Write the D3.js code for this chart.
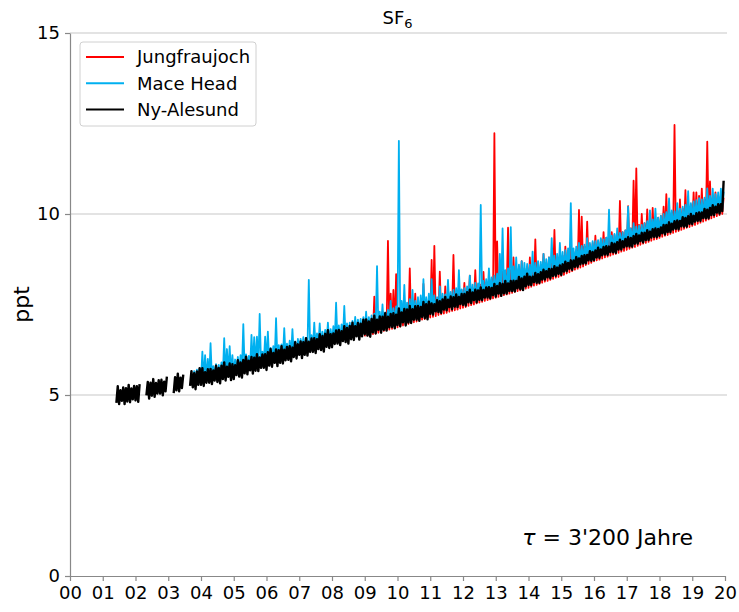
<!DOCTYPE html>
<html>
<head>
<meta charset="utf-8">
<script src="https://cdn.jsdelivr.net/npm/d3@7"></script>
<style>
body { margin: 0; background: #fff; }
svg { font-family: "DejaVu Sans", sans-serif; }
</style>
</head>
<body>
<script>
// SF6 monthly low / high (ppt), one row per year

var stations = ["Jungfraujoch", "Mace Head", "Ny-Alesund"];
var yTicks = [0, 5, 10, 15];
var xYears = d3.range(2000, 2021);

// Ny-Alesund, from June 2001
var nyStart = 2001 + 5 / 12;
var nyLow = [
	4.78, 4.75, 4.84, 4.75, 4.82, 4.80, 4.88,
	4.85, 4.81, null, null, 4.99, 4.90, 4.98, 4.95, 5.04, 5.04, 4.99, 5.10,
	null, null, 5.05, 5.13, 5.10, 5.19, null, null, 5.25, 5.21, 5.16, 5.28,
	5.28, 5.25, 5.34, 5.34, 5.30, 5.40, 5.36, 5.32, 5.44, 5.40, 5.50, 5.41,
	5.44, 5.55, 5.51, 5.48, 5.60, 5.57, 5.68, 5.59, 5.67, 5.66, 5.75, 5.75,
	5.69, 5.81, 5.78, 5.89, 5.80, 5.89, 5.87, 5.96, 5.97, 5.93, 6.05, 6.01,
	6.11, 6.02, 6.11, 6.09, 6.19, 6.19, 6.16, 6.27, 6.24, 6.20, 6.33, 6.30,
	6.32, 6.41, 6.42, 6.38, 6.49, 6.46, 6.42, 6.54, 6.52, 6.62, 6.53, 6.62,
	6.68, 6.64, 6.61, 6.73, 6.70, 6.80, 6.72, 6.80, 6.78, 6.87, 6.88, 6.84,
	6.93, 6.90, 7.01, 6.92, 7.00, 6.99, 7.08, 7.08, 7.05, 7.16, 7.12, 7.09,
	7.24, 7.22, 7.31, 7.29, 7.27, 7.36, 7.34, 7.43, 7.37, 7.44, 7.43, 7.51,
	7.49, 7.47, 7.56, 7.54, 7.62, 7.56, 7.63, 7.62, 7.69, 7.69, 7.67, 7.76,
	7.72, 7.80, 7.74, 7.81, 7.80, 7.87, 7.87, 7.86, 7.95, 7.92, 7.90, 8.00,
	8.04, 8.04, 8.12, 8.10, 8.10, 8.19, 8.19, 8.25, 8.22, 8.29, 8.29, 8.35,
	8.32, 8.41, 8.42, 8.49, 8.46, 8.54, 8.54, 8.61, 8.63, 8.64, 8.72, 8.71,
	8.73, 8.80, 8.79, 8.86, 8.88, 8.87, 8.95, 8.94, 8.93, 9.02, 9.02, 9.08,
	9.11, 9.10, 9.10, 9.18, 9.18, 9.25, 9.22, 9.28, 9.28, 9.35, 9.37, 9.36,
	9.40, 9.47, 9.44, 9.50, 9.50, 9.57, 9.59, 9.58, 9.66, 9.65, 9.65, 9.73,
	9.72, 9.79, 9.81, 9.81, 9.89, 9.88, 9.88, 9.97, 9.97, 10.04, 10.01, 10.08
];
var nyHigh = [
	5.24, 5.13, 5.21, 5.19, 5.28, 5.18, 5.25,
	5.24, 5.30, null, null, 5.36, 5.34, 5.44, 5.33, 5.41, 5.42, 5.37, 5.51,
	null, null, 5.49, 5.59, 5.48, 5.56, null, null, 5.66, 5.60, 5.65, 5.74,
	5.74, 5.63, 5.71, 5.72, 5.68, 5.81, 5.75, 5.81, 5.90, 5.78, 5.87, 5.85,
	5.82, 5.96, 5.90, 5.97, 6.06, 5.95, 6.05, 6.03, 6.13, 6.04, 6.12, 6.13,
	6.18, 6.27, 6.16, 6.26, 6.24, 6.35, 6.25, 6.33, 6.35, 6.31, 6.46, 6.40,
	6.48, 6.46, 6.57, 6.47, 6.56, 6.57, 6.54, 6.68, 6.63, 6.69, 6.79, 6.68,
	6.70, 6.78, 6.80, 6.76, 6.90, 6.85, 6.91, 7.00, 6.90, 6.99, 6.97, 7.08,
	7.09, 7.03, 7.10, 7.19, 7.08, 7.17, 7.16, 7.26, 7.16, 7.24, 7.26, 7.22,
	7.39, 7.28, 7.38, 7.36, 7.46, 7.37, 7.45, 7.46, 7.43, 7.57, 7.51, 7.58,
	7.53, 7.51, 7.62, 7.59, 7.64, 7.71, 7.63, 7.72, 7.70, 7.78, 7.71, 7.79,
	7.79, 7.84, 7.91, 7.83, 7.91, 7.89, 7.97, 7.90, 7.97, 7.98, 7.96, 8.07,
	8.01, 8.09, 8.07, 8.15, 8.08, 8.15, 8.16, 8.15, 8.26, 8.22, 8.27, 8.35,
	8.27, 8.27, 8.37, 8.34, 8.39, 8.46, 8.42, 8.48, 8.48, 8.56, 8.52, 8.58,
	8.61, 8.68, 8.65, 8.72, 8.72, 8.81, 8.77, 8.84, 8.86, 8.87, 8.97, 8.95,
	8.99, 9.07, 9.02, 9.09, 9.11, 9.10, 9.20, 9.18, 9.22, 9.29, 9.25, 9.31,
	9.36, 9.34, 9.39, 9.45, 9.41, 9.48, 9.48, 9.55, 9.51, 9.58, 9.60, 9.59,
	9.63, 9.70, 9.70, 9.77, 9.73, 9.80, 9.82, 9.81, 9.91, 9.89, 9.94, 10.00,
	9.95, 10.02, 10.04, 10.04, 10.14, 10.12, 10.17, 10.24, 10.20, 10.27, 10.27, 10.92
];

// Mace Head, from October 2003
var mhStart = 2003 + 9 / 12;
var mhLow = [
	5.35, 5.36, 5.38,
	5.39, 5.41, 5.43, 5.44, 5.46, 5.48, 5.50, 5.51, 5.53, 5.55, 5.57, 5.58,
	5.60, 5.62, 5.65, 5.67, 5.70, 5.72, 5.74, 5.77, 5.79, 5.82, 5.84, 5.87,
	5.89, 5.91, 5.94, 5.96, 5.98, 6.00, 6.02, 6.05, 6.07, 6.09, 6.11, 6.14,
	6.16, 6.19, 6.21, 6.24, 6.26, 6.29, 6.31, 6.34, 6.36, 6.39, 6.41, 6.44,
	6.46, 6.48, 6.51, 6.53, 6.55, 6.57, 6.60, 6.62, 6.64, 6.67, 6.69, 6.72,
	6.74, 6.76, 6.78, 6.80, 6.82, 6.84, 6.87, 6.89, 6.91, 6.93, 6.95, 6.97,
	6.99, 7.01, 7.04, 7.06, 7.08, 7.11, 7.13, 7.15, 7.18, 7.20, 7.22, 7.25,
	7.27, 7.29, 7.31, 7.34, 7.36, 7.38, 7.40, 7.43, 7.45, 7.47, 7.49, 7.52,
	7.54, 7.56, 7.59, 7.61, 7.63, 7.66, 7.68, 7.70, 7.73, 7.75, 7.77, 7.80,
	7.82, 7.84, 7.86, 7.89, 7.91, 7.93, 7.95, 7.98, 8.00, 8.02, 8.04, 8.07,
	8.09, 8.12, 8.15, 8.17, 8.20, 8.23, 8.26, 8.28, 8.31, 8.34, 8.37, 8.39,
	8.42, 8.45, 8.49, 8.52, 8.55, 8.59, 8.62, 8.65, 8.68, 8.72, 8.75, 8.78,
	8.82, 8.85, 8.87, 8.90, 8.93, 8.95, 8.98, 9.01, 9.03, 9.06, 9.09, 9.11,
	9.14, 9.17, 9.20, 9.22, 9.25, 9.28, 9.31, 9.33, 9.36, 9.39, 9.42, 9.44,
	9.47, 9.50, 9.53, 9.55, 9.58, 9.61, 9.64, 9.66, 9.69, 9.72, 9.75, 9.77,
	9.80, 9.83, 9.86, 9.89, 9.92, 9.95, 9.98, 10.01, 10.04, 10.07, 10.10, 10.13
];
var mhHigh = [
	5.66, 5.70, 5.72,
	6.20, 6.10, 6.00, 6.43, 5.80, 5.85, 5.83, 5.90, 6.57, 6.27, 6.35, 6.10,
	5.98, 6.05, 6.10, 6.96, 6.12, 6.08, 6.66, 6.60, 6.61, 7.24, 6.20, 6.61,
	6.75, 6.30, 6.35, 7.12, 6.38, 6.40, 6.85, 6.42, 6.50, 6.82, 6.48, 6.55,
	6.55, 6.60, 6.58, 8.18, 6.65, 7.00, 6.70, 6.98, 6.75, 6.80, 7.00, 6.82,
	6.90, 7.55, 6.92, 6.95, 7.46, 6.98, 7.00, 7.05, 7.16, 7.08, 7.10, 7.15,
	7.30, 7.15, 7.20, 7.25, 8.56, 7.30, 7.50, 7.28, 7.35, 7.60, 7.40, 7.45,
	12.02, 7.60, 8.04, 7.55, 7.65, 7.90, 7.60, 7.70, 7.75, 8.20, 7.70, 7.80,
	8.20, 7.75, 7.70, 8.00, 7.80, 7.78, 8.18, 7.85, 7.90, 7.95, 8.45, 7.92,
	7.95, 8.00, 8.30, 8.05, 8.10, 8.08, 10.25, 8.15, 8.20, 8.50, 8.25, 8.30,
	8.35, 8.90, 9.60, 8.45, 8.50, 9.64, 8.55, 8.80, 8.60, 8.70, 8.65, 8.62,
	8.60, 8.96, 8.65, 8.70, 8.68, 8.90, 8.75, 8.80, 9.33, 8.85, 8.90, 9.20,
	8.95, 9.00, 9.05, 10.30, 9.05, 9.10, 9.20, 9.12, 9.15, 9.33, 9.20, 9.25,
	9.25, 9.28, 9.33, 9.30, 9.35, 10.12, 9.40, 9.45, 9.60, 9.48, 9.50, 9.55,
	10.20, 9.60, 9.75, 9.65, 9.68, 9.70, 9.75, 9.80, 10.10, 9.85, 10.15, 9.90,
	9.95, 10.00, 10.05, 10.43, 10.10, 10.08, 10.30, 10.15, 10.20, 10.25, 10.63, 10.30,
	10.35, 10.38, 10.44, 10.40, 10.45, 10.71, 10.50, 10.70, 10.55, 10.60, 10.70, 10.62
];

// Jungfraujoch, from January 2009
var jfStart = 2009;
var jfLow = [
	6.62, 6.64, 6.66, 6.68, 6.70, 6.72, 6.75, 6.77, 6.79, 6.81, 6.83, 6.85,
	6.87, 6.89, 6.92, 6.94, 6.96, 6.99, 7.01, 7.03, 7.06, 7.08, 7.10, 7.13,
	7.14, 7.16, 7.18, 7.21, 7.23, 7.25, 7.27, 7.30, 7.32, 7.34, 7.36, 7.39,
	7.41, 7.43, 7.46, 7.48, 7.50, 7.53, 7.55, 7.57, 7.60, 7.62, 7.64, 7.67,
	7.69, 7.71, 7.73, 7.76, 7.78, 7.80, 7.82, 7.85, 7.87, 7.89, 7.91, 7.94,
	7.96, 7.99, 8.02, 8.04, 8.07, 8.10, 8.13, 8.15, 8.18, 8.21, 8.24, 8.26,
	8.29, 8.32, 8.36, 8.39, 8.42, 8.46, 8.49, 8.52, 8.55, 8.59, 8.62, 8.65,
	8.69, 8.72, 8.74, 8.77, 8.80, 8.82, 8.85, 8.88, 8.90, 8.93, 8.96, 8.98,
	9.01, 9.04, 9.07, 9.09, 9.12, 9.15, 9.18, 9.20, 9.23, 9.26, 9.29, 9.31,
	9.34, 9.37, 9.40, 9.42, 9.45, 9.48, 9.51, 9.53, 9.56, 9.59, 9.62, 9.64,
	9.67, 9.70, 9.73, 9.76, 9.79, 9.82, 9.85, 9.88, 9.91, 9.94, 9.97, 10.00
];
var jfHigh = [
	7.00, 7.02, 7.05, 7.72, 7.08, 7.10, 7.30, 7.12, 9.26, 7.80, 7.90, 8.34,
	7.30, 7.35, 7.60, 7.40, 8.50, 7.45, 7.80, 7.48, 7.55, 8.07, 7.55, 7.60,
	8.73, 9.12, 7.65, 8.41, 7.70, 8.00, 7.72, 7.75, 8.87, 7.80, 7.85, 7.90,
	8.10, 7.90, 8.30, 7.95, 8.45, 8.00, 8.05, 8.40, 8.10, 8.15, 8.20, 12.23,
	9.24, 8.30, 8.40, 8.35, 9.62, 8.45, 8.80, 8.50, 8.45, 8.70, 8.50, 8.55,
	8.80, 8.50, 9.30, 8.55, 8.60, 8.90, 8.65, 8.80, 8.70, 9.56, 8.75, 8.80,
	8.85, 9.10, 8.90, 9.20, 8.95, 9.00, 10.11, 9.93, 9.10, 9.79, 9.15, 9.20,
	9.40, 9.25, 9.30, 9.50, 9.35, 9.38, 9.50, 9.42, 9.45, 10.36, 9.50, 9.55,
	10.22, 9.60, 10.92, 11.26, 9.70, 10.00, 9.75, 10.13, 9.80, 10.17, 9.85, 9.90,
	9.95, 10.20, 10.55, 10.00, 10.05, 12.46, 10.10, 10.40, 10.15, 10.66, 10.20, 10.25,
	10.60, 10.60, 10.50, 10.70, 10.40, 12.00, 10.90, 10.45, 10.60, 10.50, 10.50, 10.45
];

var colors = ["#ff0000", "#00b0f0", "#000000"];

var width = 739, height = 612;
var margin = {top: 33, right: 14, bottom: 36, left: 70};

var x = d3.scaleLinear().domain([2000, 2020]).range([margin.left, width - margin.right]);
var y = d3.scaleLinear().domain([0, 15]).range([height - margin.bottom, margin.top]);

var svg = d3.select("body").append("svg")
	.attr("width", width)
	.attr("height", height);

// grid
svg.append("g")
	.selectAll("line")
	.data(yTicks.filter(function(d){ return d > 0; }))
	.enter().append("line")
	.attr("x1", x(2000)).attr("x2", x(2020) + 2)
	.attr("y1", function(d){ return y(d); })
	.attr("y2", function(d){ return y(d); })
	.attr("stroke", "#c8c8c8")
	.attr("stroke-width", 1.2);

// turn low/high months into a zigzag line
function zigzag(start, lo, hi) {
	var pts = [];
	lo.forEach(function(v, i){
		var t = start + i / 12;
		pts.push([t, v]);
		pts.push([t + 1 / 24, hi[i]]);
	});
	return pts;
}

var line = d3.line()
	.defined(function(d){ return d[1] != null; })
	.x(function(d){ return x(d[0]); })
	.y(function(d){ return y(d[1]); });

var series = [
	zigzag(jfStart, jfLow, jfHigh),
	zigzag(mhStart, mhLow, mhHigh),
	zigzag(nyStart, nyLow, nyHigh)
];

svg.append("g")
	.selectAll("path")
	.data(series)
	.enter().append("path")
	.attr("d", line)
	.attr("fill", "none")
	.attr("stroke", function(d, i){ return colors[i]; })
	.attr("stroke-width", function(d, i){ return i == 2 ? 2.4 : 1.8; })
	.attr("stroke-linejoin", "round");

// axes
var xAxis = svg.append("g")
	.attr("transform", "translate(0," + y(0) + ")")
	.call(d3.axisBottom(x)
		.tickValues(xYears)
		.tickFormat(function(d){ return d3.format("02")(d - 2000); })
		.tickSize(5)
		.tickSizeOuter(0)
		.tickPadding(5));

var yAxis = svg.append("g")
	.attr("transform", "translate(" + x(2000) + ",0)")
	.call(d3.axisLeft(y)
		.tickValues(yTicks)
		.tickSize(5)
		.tickSizeOuter(0)
		.tickPadding(5));

[xAxis, yAxis].forEach(function(a){
	a.select(".domain").attr("stroke", "#888").attr("stroke-width", 1.2);
	a.selectAll(".tick line").attr("stroke", "#888").attr("stroke-width", 1.2);
	a.selectAll(".tick text")
		.attr("fill", "#000")
		.style("font-size", "18px")
		.style("font-family", "DejaVu Sans");
});

// title
var title = svg.append("text")
	.attr("x", (x(2000) + x(2020)) / 2)
	.attr("y", 24)
	.attr("text-anchor", "middle")
	.style("font-size", "18px");
title.append("tspan").text("SF");
title.append("tspan").attr("dy", 4).style("font-size", "13px").text("6");

// y label
svg.append("text")
	.attr("transform", "translate(29," + (y(0) + y(15)) / 2 + ") rotate(-90)")
	.attr("text-anchor", "middle")
	.style("font-size", "22px")
	.text("ppt");

// lifetime note
var note = svg.append("text")
	.attr("x", 693)
	.attr("y", 545)
	.attr("text-anchor", "end")
	.style("font-size", "22px")
	.attr("xml:space", "preserve");
note.append("tspan").style("font-style", "italic").text("\u03c4");
note.append("tspan").text(" = 3'200 Jahre");

// legend
var legend = svg.append("g");
legend.append("rect")
	.attr("x", 80).attr("y", 42)
	.attr("width", 176).attr("height", 84)
	.attr("rx", 3)
	.attr("fill", "#fff").attr("fill-opacity", 0.8)
	.attr("stroke", "#d0d0d0");

var item = legend.selectAll(".item")
	.data(stations)
	.enter().append("g")
	.attr("class", "item")
	.attr("transform", function(d, i){ return "translate(0," + (57 + i * 26.3) + ")"; });

item.append("line")
	.attr("x1", 86).attr("x2", 124)
	.attr("stroke", function(d, i){ return colors[i]; })
	.attr("stroke-width", 2);

item.append("text")
	.attr("x", 137)
	.attr("dy", "0.35em")
	.style("font-size", "18px")
	.text(function(d){ return d; });
</script>
</body>
</html>
